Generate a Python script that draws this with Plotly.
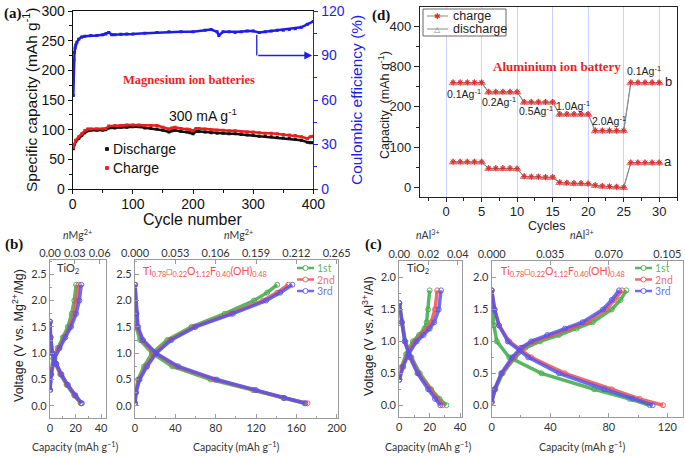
import plotly.graph_objects as go

W, H = 685, 456

# ---------------- (a) Mg cycling at 300 mA/g ----------------
cycles_a = [1, 5, 10, 15, 20, 25, 30, 40, 50, 55, 60, 70, 80, 90, 100, 110, 120, 130,
            140, 150, 160, 165, 170, 180, 190, 195, 200, 205, 210, 220, 230, 240, 250,
            260, 270, 280, 290, 300, 310, 320, 330, 340, 350, 360, 370, 380, 390, 395, 400]
discharge_a = [68, 80, 85, 90, 95, 98, 99, 99, 99, 100, 103, 103, 104, 104, 105, 105, 103, 102,
               101, 99, 96, 98, 99, 97, 96, 95, 93, 97, 97, 96, 95, 94, 94,
               93, 93, 92, 91, 91, 89, 89, 88, 87, 86, 85, 84, 82, 79, 78, 78]
charge_a = [70, 82, 88, 93, 98, 101, 101, 101, 101, 102, 106, 107, 107, 108, 108, 108, 107, 107,
            107, 104, 101, 103, 104, 102, 101, 100, 98, 102, 102, 101, 100, 99, 99,
            98, 98, 97, 96, 96, 95, 94, 94, 93, 92, 91, 90, 88, 85, 88, 89]
cycles_ce = [1, 2, 3, 4, 5, 7, 10, 15, 20, 30, 40, 50, 55, 60, 65, 70, 80, 90, 100, 120, 140,
             160, 180, 200, 220, 230, 240, 243, 250, 260, 270, 280, 290, 300, 310, 320, 330,
             340, 350, 360, 370, 380, 390, 400]
coulombic_eff = [63, 87, 92, 95, 97, 99, 101, 102.5, 103, 103.5, 103.5, 104, 104.5, 105.5, 104,
                 104, 104.3, 104.5, 104.5, 105, 105.5, 106, 106, 106, 107, 107.5, 106, 103.5,
                 106, 106, 105.5, 106, 106.5, 106.5, 105.5, 106, 106.5, 107, 107, 107.5, 108,
                 109, 111, 113]

# ---------------- (d) Al rate capability ----------------
cycles_d = list(range(1, 31))
b_charge = [260, 260, 260, 260, 260, 237, 237, 237, 237, 237, 212, 212, 212, 212, 212,
            182, 182, 182, 182, 182, 141, 141, 141, 141, 141, 260, 260, 260, 260, 260]
b_discharge = [259, 259, 259, 259, 259, 236, 236, 236, 236, 236, 211, 211, 211, 211, 211,
               181, 181, 181, 181, 181, 140, 140, 140, 140, 140, 259, 259, 259, 259, 259]
a_charge = [64, 64, 64, 64, 64, 48, 48, 48, 48, 47, 28, 27, 27, 26, 26,
            13, 12, 11, 11, 10, 6, 4, 3, 2, 1, 62, 62, 62, 62, 62]
a_discharge = [63, 63, 63, 63, 63, 47, 47, 47, 47, 46, 27, 26, 26, 25, 25,
               12, 11, 10, 10, 9, 5, 3, 2, 1, 0, 61, 61, 61, 61, 61]
rate_labels = ["0.1Ag<sup>-1</sup>", "0.2Ag<sup>-1</sup>", "0.5Ag<sup>-1</sup>",
               "1.0Ag<sup>-1</sup>", "2.0Ag<sup>-1</sup>", "0.1Ag<sup>-1</sup>"]

# ---------------- (b) Mg charge/discharge profiles ----------------
cycle_names = ["1st", "2nd", "3rd"]
mg_tio2_chg_v = [0.3, 0.6, 0.9, 1.1, 1.3, 1.5, 1.75, 2.0, 2.3]
mg_tio2_chg = [[0, 0.5, 2.5, 6, 10, 14, 17, 19, 20.5],
               [0, 0.7, 3, 7, 11, 15.5, 19, 21, 22.5],
               [0, 1, 3.5, 7.5, 12, 16.5, 20.5, 23, 24.5]]
mg_tio2_dis_v = [1.6, 1.3, 1.0, 0.8, 0.6, 0.4, 0.2, 0.05]
mg_tio2_dis = [[0, 0.3, 1.5, 4.3, 8, 13, 19, 24],
               [0, 0.4, 1.8, 4.7, 8.5, 13.5, 19.5, 24.5],
               [0, 0.5, 2, 5, 9, 14, 20, 25]]
mg_tmof_chg_v = [0.05, 0.25, 0.5, 0.75, 1.0, 1.25, 1.5, 1.75, 2.0, 2.15, 2.3]
mg_tmof_chg = [[0, 0.5, 3, 9, 17, 32, 56, 89, 118, 131, 141],
               [0, 0.8, 4, 11, 20, 35, 59, 95, 127, 141, 152],
               [0, 1, 4.5, 12, 21, 36, 60, 97, 130, 144, 156]]
mg_tmof_dis_v = [2.3, 1.75, 1.5, 1.25, 1.0, 0.75, 0.5, 0.3, 0.15, 0.05]
mg_tmof_dis = [[0, 0.5, 1, 5, 17, 37, 75, 117, 147, 168],
               [0, 1.2, 2.5, 7, 20, 41, 79, 119, 148, 171],
               [0, 1.5, 3, 8, 21, 43, 81, 120, 148, 169]]

# ---------------- (c) Al charge/discharge profiles ----------------
al_tio2_chg_v = [0.4, 0.6, 0.8, 1.0, 1.1, 1.2, 1.3, 1.5, 1.8]
al_tio2_chg = [[0, 1.5, 4.5, 9, 13, 16.5, 18, 19, 20],
               [0, 2, 5.5, 10.5, 14.5, 18.5, 21, 23.5, 25],
               [0, 2.5, 6, 11.5, 16, 20, 23, 26, 27.5]]
al_tio2_dis_v = [1.6, 1.3, 1.0, 0.75, 0.5, 0.25, 0.1, 0.0]
al_tio2_dis = [[0, 1.8, 4, 8, 13.5, 21, 26.5, 31],
               [0, 1.6, 3.8, 7.5, 12.5, 20, 25, 28.5],
               [0, 1.5, 3.5, 7, 12, 19, 23.5, 27]]
al_tmof_chg_v = [0.05, 0.25, 0.5, 0.75, 0.9, 1.0, 1.1, 1.2, 1.3, 1.5, 1.65, 1.8]
al_tmof_chg = [[0, 2.5, 7.5, 16, 23, 33, 46, 58, 69, 82, 88, 92],
               [0, 2, 7, 15, 21, 29, 41, 53, 65, 78, 84, 89],
               [0, 2, 6.5, 14, 20, 27, 38, 50, 62, 76, 82, 87]]
al_tmof_dis_v = [1.8, 1.5, 1.25, 1.0, 0.75, 0.5, 0.25, 0.1, 0.0]
al_tmof_dis = [[0, 0.5, 1.5, 3.5, 12, 34, 70, 94, 108],
               [0, 2, 5, 12, 27, 50, 82, 101, 117],
               [0, 2, 5, 11, 25, 46, 77, 96, 110]]

cycle_colors = ["rgba(60,170,70,0.85)", "rgba(240,80,80,0.85)", "rgba(85,85,235,0.85)"]
BLACK, RED, BLUE = "#111", "rgb(235,30,30)", "rgb(30,30,230)"
ARIAL = "Liberation Sans, Arial"
SERIF = "Liberation Serif, Times New Roman"
LIGHT = "Lato, Open Sans"


def dom_x(left, right):
    return [left / W, right / W]


def dom_y(top, bottom):
    return [1 - bottom / H, 1 - top / H]


fig = go.Figure()

# (a) capacity and coulombic efficiency
for ys, col in [(discharge_a, BLACK), (charge_a, RED)]:
    fig.add_trace(go.Scatter(x=cycles_a, y=ys, mode="lines+markers", showlegend=False,
                             line=dict(color=col, width=2.5),
                             marker=dict(size=3, symbol="square", color=col),
                             xaxis="x", yaxis="y"))
fig.add_trace(go.Scatter(x=cycles_ce, y=coulombic_eff, mode="lines+markers", showlegend=False,
                         line=dict(color=BLUE, width=2.5),
                         marker=dict(size=3, symbol="square", color=BLUE),
                         xaxis="x", yaxis="y2"))

# (d) rate test
for series_c, series_d in [(b_charge, b_discharge), (a_charge, a_discharge)]:
    fig.add_trace(go.Scatter(x=cycles_d, y=series_d, mode="lines+markers", showlegend=False,
                             line=dict(color="#8a8a8a", width=1),
                             marker=dict(symbol="triangle-up", size=7, color="rgba(245,165,165,1)",
                                         line=dict(color="rgba(200,120,120,1)", width=0.8)),
                             xaxis="x2", yaxis="y3"))
    fig.add_trace(go.Scatter(x=cycles_d, y=series_c, mode="lines+markers", showlegend=False,
                             line=dict(color="#8a8a8a", width=1),
                             marker=dict(symbol="asterisk-open", size=5, color="rgb(225,40,40)",
                                         line=dict(color="rgb(225,40,40)", width=1)),
                             xaxis="x2", yaxis="y3"))


def add_profiles(chg_v, chg, dis_v, dis, xa, ya, xtop):
    for i in range(3):
        for caps, volts in [(chg[i], chg_v), (dis[i], dis_v)]:
            fig.add_trace(go.Scatter(
                x=caps, y=volts, mode="lines+markers", showlegend=False,
                line=dict(color=cycle_colors[i], width=3.5),
                marker=dict(symbol="circle-open", size=5, color=cycle_colors[i], line=dict(width=1)),
                xaxis=xa, yaxis=ya))
    # empty trace so the top (n ion) axis gets drawn
    fig.add_trace(go.Scatter(x=[None], y=[None], mode="markers", showlegend=False,
                             hoverinfo="skip", xaxis=xtop, yaxis=ya))


add_profiles(mg_tio2_chg_v, mg_tio2_chg, mg_tio2_dis_v, mg_tio2_dis, "x3", "y4", "x4")
add_profiles(mg_tmof_chg_v, mg_tmof_chg, mg_tmof_dis_v, mg_tmof_dis, "x5", "y5", "x6")
add_profiles(al_tio2_chg_v, al_tio2_chg, al_tio2_dis_v, al_tio2_dis, "x7", "y6", "x8")
add_profiles(al_tmof_chg_v, al_tmof_chg, al_tmof_dis_v, al_tmof_dis, "x9", "y7", "x10")

# arrow pointing to CE axis
fig.add_shape(type="line", x0=306, x1=306, y0=104, y1=90, xref="x", yref="y2",
              line=dict(color=BLUE, width=1.3))
fig.add_annotation(x=398, y=90, ax=306, ay=90, xref="x", yref="y2", axref="x", ayref="y2",
                   text="", showarrow=True, arrowhead=2, arrowsize=1.2, arrowwidth=1.3,
                   arrowcolor=BLUE)

black_ax = dict(showline=True, linecolor=BLACK, linewidth=1.2, showgrid=False, zeroline=False,
                ticks="outside", ticklen=4, tickcolor=BLACK, automargin=False,
                tickfont=dict(family=ARIAL, size=14, color=BLACK))

frame_ax = dict(showline=True, linecolor="#9a9a9a", linewidth=1.2, mirror=True, showgrid=False,
                zeroline=False, ticks="inside", ticklen=4, tickcolor="#9a9a9a", automargin=False,
                tickfont=dict(family=LIGHT, size=11, color="#333"))
top_ax = dict(showline=False, showgrid=False, zeroline=False, ticks="inside", ticklen=4,
              tickcolor="#9a9a9a", side="top", automargin=False,
              tickfont=dict(family=LIGHT, size=11, color="#333"))

b_y = dict(frame_ax, range=[-0.23, 2.77], tickvals=[0, 0.5, 1.0, 1.5, 2.0, 2.5],
           ticktext=["0.0", "0.5", "1.0", "1.5", "2.0", "2.5"], domain=dom_y(260, 418),
           minor=dict(ticks="inside", ticklen=2, dtick=0.25, tickcolor="#9a9a9a"))
c_y = dict(frame_ax, range=[-0.18, 2.26], tickvals=[0, 0.5, 1.0, 1.5, 2.0],
           ticktext=["0.0", "0.5", "1.0", "1.5", "2.0"], domain=dom_y(261, 416.7),
           minor=dict(ticks="inside", ticklen=2, dtick=0.25, tickcolor="#9a9a9a"))

mg_l_range = [0, 44]
mg_r_range = [0, 201.3]
al_l_range = [0, 41.1]
al_r_range = [0, 130.9]
k_mg_l, k_mg_r = 0.06 / 39, 0.265 / 200
k_al_l, k_al_r = 0.04 / 38.5, 0.105 / 120

fig.update_layout(
    width=W, height=H, autosize=False, margin=dict(l=0, r=0, t=0, b=0),
    paper_bgcolor="white", plot_bgcolor="white", showlegend=False,
    # (a)
    xaxis=dict(black_ax, domain=dom_x(72.7, 313.3), range=[0, 400], dtick=100, mirror=True,
               anchor="y", ticklabelstandoff=-2,
               minor=dict(ticks="outside", ticklen=2.5, dtick=50, tickcolor=BLACK)),
    yaxis=dict(black_ax, domain=dom_y(11, 189), range=[0, 300], dtick=50, anchor="x",
               minor=dict(ticks="outside", ticklen=2.5, dtick=25, tickcolor=BLACK)),
    yaxis2=dict(showline=True, linecolor=BLUE, linewidth=1.2, showgrid=False, automargin=False,
                zeroline=False, ticks="outside", ticklen=4, tickcolor=BLUE,
                tickfont=dict(family=ARIAL, size=14, color=BLUE),
                overlaying="y", side="right", anchor="x", range=[0, 120], dtick=30,
                minor=dict(ticks="outside", ticklen=2.5, dtick=15, tickcolor=BLUE)),
    # (d)
    xaxis2=dict(showline=True, linecolor="#222", linewidth=1.2, mirror=True, zeroline=False,
                showgrid=True, gridcolor="rgba(170,170,250,0.55)", gridwidth=1, automargin=False,
                ticks="outside", ticklen=4, tickcolor="#222", anchor="y3", ticklabelstandoff=-2,
                tickfont=dict(family=ARIAL, size=13, color="#222"),
                domain=dom_x(420, 677), range=[-3.66, 32.5], tick0=0, dtick=5,
                minor=dict(ticks="outside", ticklen=3, dtick=2.5, tick0=0, tickcolor="#222")),
    yaxis3=dict(showline=True, linecolor="#222", linewidth=1.2, mirror=True, zeroline=False,
                showgrid=False, ticks="outside", ticklen=5, tickcolor="#222", anchor="x2",
                tickfont=dict(family=ARIAL, size=13, color="#222"), automargin=False,
                domain=dom_y(7, 197), range=[-23, 447], dtick=100,
                minor=dict(ticks="outside", ticklen=3, dtick=50, tickcolor="#222")),
    # (b) left / right
    xaxis3=dict(frame_ax, domain=dom_x(50, 50 + 1.275 * mg_l_range[1]), range=mg_l_range,
                tickvals=[0, 20, 40], anchor="y4",
                minor=dict(ticks="inside", ticklen=2, dtick=10, tickcolor="#9a9a9a")),
    xaxis4=dict(top_ax, overlaying="x3", anchor="y4",
                range=[mg_l_range[0] * k_mg_l, mg_l_range[1] * k_mg_l],
                tickvals=[0, 0.03, 0.06], ticktext=["0.00", "0.03", "0.06"]),
    yaxis4=dict(b_y, anchor="x3"),
    xaxis5=dict(frame_ax, domain=dom_x(135, 338), range=mg_r_range, tickvals=[0, 40, 80, 120, 160, 200],
                anchor="y5", minor=dict(ticks="inside", ticklen=2, dtick=20, tickcolor="#9a9a9a")),
    xaxis6=dict(top_ax, overlaying="x5", anchor="y5",
                range=[mg_r_range[0] * k_mg_r, mg_r_range[1] * k_mg_r],
                tickvals=[0, 0.053, 0.106, 0.159, 0.212, 0.265],
                ticktext=["0.000", "0.053", "0.106", "0.159", "0.212", "0.265"]),
    yaxis5=dict(b_y, anchor="x5"),
    # (c) left / right
    xaxis7=dict(frame_ax, domain=dom_x(399.3, 461.7), range=al_l_range, tickvals=[0, 20, 40],
                anchor="y6", minor=dict(ticks="inside", ticklen=2, dtick=10, tickcolor="#9a9a9a")),
    xaxis8=dict(top_ax, overlaying="x7", anchor="y6",
                range=[al_l_range[0] * k_al_l, al_l_range[1] * k_al_l],
                tickvals=[0, 0.02, 0.04], ticktext=["0.00", "0.02", "0.04"]),
    yaxis6=dict(c_y, anchor="x7"),
    xaxis9=dict(frame_ax, domain=dom_x(491.7, 683.3), range=al_r_range, tickvals=[0, 40, 80, 120],
                anchor="y7", minor=dict(ticks="inside", ticklen=2, dtick=20, tickcolor="#9a9a9a")),
    xaxis10=dict(top_ax, overlaying="x9", anchor="y7",
                 range=[al_r_range[0] * k_al_r, al_r_range[1] * k_al_r],
                 tickvals=[0, 0.035, 0.070, 0.105], ticktext=["0.000", "0.035", "0.070", "0.105"]),
    yaxis7=dict(c_y, anchor="x9"),
)


def note(text, px, py, size, family=ARIAL, color=BLACK, angle=0, xanchor="center", **kw):
    fig.add_annotation(text=text, x=px / W, y=1 - py / H, xref="paper", yref="paper",
                       xanchor=xanchor, yanchor="middle", showarrow=False, textangle=angle,
                       font=dict(family=family, size=size, color=color), **kw)


def pline(x0, x1, py, color, width=1.0):
    fig.add_shape(type="line", xref="paper", yref="paper", x0=x0 / W, x1=x1 / W,
                  y0=1 - py / H, y1=1 - py / H, line=dict(color=color, width=width))


def pbox(cx, cy, r, color, fill, kind="rect"):
    fig.add_shape(type=kind, xref="paper", yref="paper", x0=(cx - r) / W, x1=(cx + r) / W,
                  y0=1 - (cy + r) / H, y1=1 - (cy - r) / H, fillcolor=fill,
                  line=dict(color=color, width=1))


# legend (a)
for name, col, py in [("Discharge", BLACK, 149), ("Charge", RED, 168)]:
    pbox(107, py, 1.4, col, col)
    note(name, 111, py, 14, xanchor="left")

# legend (d)
fig.add_shape(type="rect", xref="paper", yref="paper", x0=423 / W, x1=506 / W,
              y0=1 - 36 / H, y1=1 - 9 / H, line=dict(color="#666", width=1), fillcolor="white")
for name, glyph, gcol, py in [("charge", "✱", "rgb(225,40,40)", 16), ("discharge", "△", "#888", 29)]:
    pline(427, 448, py, "#8a8a8a")
    note(glyph, 437.5, py, 8, color=gcol)
    note(name, 451, py, 12.5, color="#222", xanchor="left")

# legends (b) and (c)
for lx in [297, 635]:
    for i, py in enumerate([268, 279.5, 291]):
        pline(lx, lx + 17, py, cycle_colors[i], 2.5)
        fig.add_shape(type="circle", xref="paper", yref="paper", x0=(lx + 6) / W, x1=(lx + 11) / W,
                      y0=1 - (py + 2.5) / H, y1=1 - (py - 2.5) / H, fillcolor="white",
                      line=dict(color=cycle_colors[i], width=1))
        note(cycle_names[i], lx + 18, py, 10.5, family=LIGHT, color=cycle_colors[i], xanchor="left")

# axis titles
note("Specific capacity (mAh g<sup>-1</sup>)", 30, 100, 15.5, angle=-90)
note("Coulombic efficiency (%)", 356, 100, 15.5, color=BLUE, angle=-90)
note("Cycle number", 192, 220, 16)
note("Capacity  (mAh g<sup>-1</sup>)", 384, 105, 12.5, color="#222", angle=-90)
note("Cycles", 547, 226, 12.5, color="#222")
note("Voltage (V vs. Mg<sup>2+</sup>/Mg)", 18, 336, 12.5, color="#222", angle=-90)
note("Voltage (V vs. Al<sup>3+</sup>/Al)", 368, 336, 12.5, color="#222", angle=-90)
for cx in [75, 236]:
    note("Capacity (mAh g<sup>−1</sup>)", cx, 446, 10.5, family=LIGHT, color="#333")
    note("<i>n</i>Mg<sup>2+</sup>", cx + 2, 234, 10.5, family=LIGHT, color="#333")
for cx in [428, 582]:
    note("Capacity (mAh g<sup>−1</sup>)", cx, 446, 10.5, family=LIGHT, color="#333")
    note("<i>n</i>Al<sup>3+</sup>", cx, 234, 10.5, family=LIGHT, color="#333")

# panel labels
note("<b>(a)</b>", 13, 13, 15, family=SERIF)
note("<b>(b)</b>", 14, 245, 15, family=SERIF)
note("<b>(c)</b>", 373, 245, 15, family=SERIF)
note("<b>(d)</b>", 381, 15, 15, family=SERIF)

# in-plot texts
note("TiO<sub>2</sub>", 55, 268, 11, family=LIGHT, color="#333", xanchor="left")
note("TiO<sub>2</sub>", 405, 268, 11, family=LIGHT, color="#333", xanchor="left")
formula = "Ti<sub>0.78</sub>□<sub>0.22</sub>O<sub>1.12</sub>F<sub>0.40</sub>(OH)<sub>0.48</sub>"
note(formula, 141, 272, 10.5, family=LIGHT, color="rgb(240,80,80)", xanchor="left")
note(formula, 499, 272, 10.5, family=LIGHT, color="rgb(240,80,80)", xanchor="left")

fig.add_annotation(text="<b>Magnesium ion batteries</b>", x=193, y=184, xref="x", yref="y",
                   showarrow=False, font=dict(family=SERIF, size=12.5, color="rgb(240,30,30)"))
fig.add_annotation(text="300 mA g<sup>-1</sup>", x=217, y=125, xref="x", yref="y",
                   showarrow=False, font=dict(family=ARIAL, size=14, color=BLACK))
fig.add_annotation(text="<b>Aluminium ion battery</b>", x=15.6, y=301, xref="x2", yref="y3",
                   showarrow=False, font=dict(family=SERIF, size=13, color="rgb(240,30,30)"))
for label, lx, ly in zip(rate_labels, [2.5, 7.5, 12.7, 17.9, 22.9, 27.8],
                         [234, 213, 192, 204, 167, 291]):
    fig.add_annotation(text=label, x=lx, y=ly, xref="x2", yref="y3", showarrow=False,
                       font=dict(family=ARIAL, size=10.5, color="#222"))
fig.add_annotation(text="b", x=31.3, y=262, xref="x2", yref="y3", showarrow=False,
                   font=dict(family=ARIAL, size=13, color="#222"))
fig.add_annotation(text="a", x=31.3, y=64, xref="x2", yref="y3", showarrow=False,
                   font=dict(family=ARIAL, size=13, color="#222"))

# the page body has a default 8px margin; drop it so the figure fills the window
fig.write_html("out.html", config={"displayModeBar": False},
               post_script="document.body.style.margin = '0';")
